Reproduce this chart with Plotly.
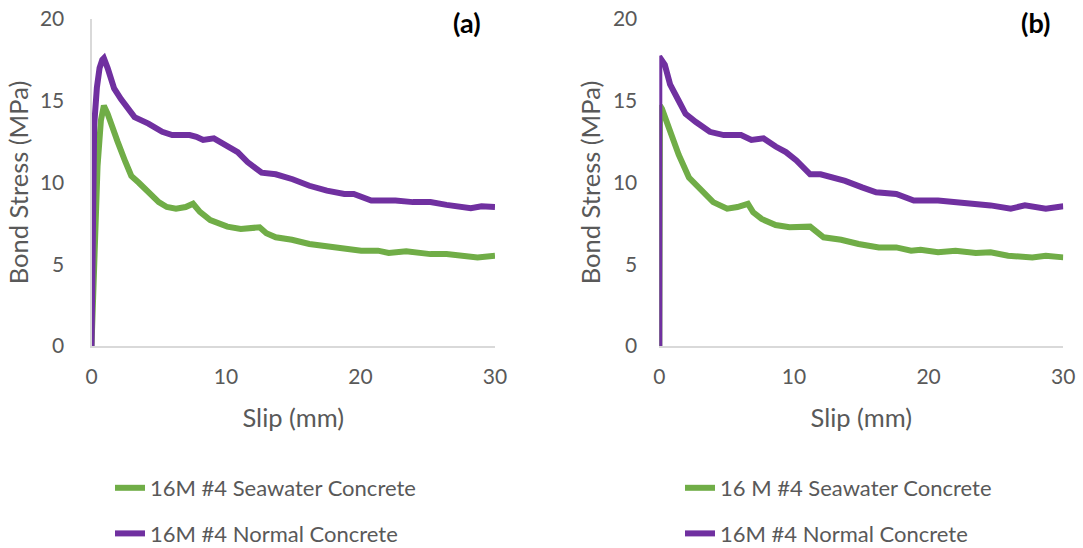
import plotly.graph_objects as go

# ---- data ----
slip_a_sea = [0, 0.1, 0.2, 0.45, 0.7, 0.92, 1.2, 1.5, 1.94, 2.5, 2.96, 3.5, 3.98, 4.5, 5.0, 5.6, 6.28,
              7.0, 7.55, 8.06, 8.83, 10.1, 11.1, 12.5, 13.0, 13.7, 14.9, 16.2, 17.5, 18.8, 20.05,
              21.3, 22.1, 23.4, 25.2, 26.4, 27.7, 28.7, 30]
stress_a_sea = [0, 3.0, 6.0, 11.0, 13.8, 14.7, 14.2, 13.4, 12.5, 11.3, 10.4, 10.0, 9.6, 9.2, 8.8, 8.5, 8.4,
                8.5, 8.7, 8.2, 7.7, 7.3, 7.16, 7.26, 6.9, 6.65, 6.5, 6.24, 6.13, 5.97, 5.83,
                5.83, 5.69, 5.79, 5.62, 5.62, 5.52, 5.42, 5.52]

slip_a_nor = [0, 0.1, 0.2, 0.4, 0.6, 0.8, 0.92, 1.2, 1.68, 2.19, 2.7, 3.2, 4.23, 5.26, 6.0, 7.3, 7.8,
              8.3, 9.1, 9.85, 10.87, 11.6, 12.65, 13.7, 14.95, 16.2, 17.5, 18.8, 19.5, 20.8, 22.6,
              23.9, 25.2, 26.4, 28.2, 29.0, 30]
stress_a_nor = [0, 10.0, 13.5, 15.8, 17.0, 17.5, 17.6, 17.0, 15.75, 15.1, 14.5, 14.0, 13.6, 13.1, 12.9, 12.9, 12.8,
                12.6, 12.7, 12.3, 11.86, 11.25, 10.6, 10.5, 10.2, 9.8, 9.5, 9.3, 9.3, 8.9, 8.9,
                8.8, 8.8, 8.63, 8.43, 8.55, 8.5]

slip_b_sea = [0, 0.05, 0.2, 0.8, 1.44, 2.2, 2.98, 4.0, 5.04, 5.8, 6.58, 6.97, 7.6, 8.64, 9.67, 11.2,
              12.2, 13.5, 14.8, 16.3, 17.6, 18.7, 19.4, 20.7, 22.0, 23.5, 24.6, 25.9, 27.7, 28.7, 30]
stress_b_sea = [0, 14.7, 14.5, 13.1, 11.7, 10.3, 9.7, 8.8, 8.4, 8.5, 8.7, 8.18, 7.77, 7.4, 7.26, 7.3,
                6.65, 6.5, 6.24, 6.03, 6.03, 5.83, 5.89, 5.73, 5.83, 5.69, 5.73, 5.52, 5.42, 5.52, 5.42]

slip_b_nor = [0, 0, 0.41, 0.8, 1.44, 1.95, 2.72, 3.75, 4.78, 6.07, 6.84, 7.74, 8.64, 9.4, 10.18, 11.2,
              11.98, 13.0, 13.8, 15.06, 16.1, 17.6, 18.9, 20.7, 22.0, 23.0, 24.6, 26.1, 27.15, 28.7, 30]
stress_b_nor = [0, 17.7, 17.2, 16.0, 15.0, 14.2, 13.7, 13.1, 12.9, 12.9, 12.6, 12.7, 12.2, 11.86, 11.35, 10.5,
                10.5, 10.3, 10.1, 9.7, 9.4, 9.3, 8.9, 8.9, 8.8, 8.8, 8.6, 8.4, 8.6, 8.4, 8.55]

names_a = ["16M #4 Seawater Concrete", "16M #4 Normal Concrete"]
names_b = ["16 M #4 Seawater Concrete", "16M #4 Normal Concrete"]
x_ticks = [0, 10, 20, 30]
y_ticks = [0, 5, 10, 15, 20]

GREEN = "#70AD47"
PURPLE = "#7030A0"
GREY_TXT = "#595959"
FONT = "Lato, Carlito, Calibri, sans-serif"

W, H = 1083, 548

fig = go.Figure()
fig.add_trace(go.Scatter(x=slip_a_sea, y=stress_a_sea, mode="lines", name=names_a[0],
                         line=dict(color=GREEN, width=6), xaxis="x", yaxis="y",
                         legend="legend", legendgroup="a1"))
fig.add_trace(go.Scatter(x=slip_a_nor, y=stress_a_nor, mode="lines", name=names_a[1],
                         line=dict(color=PURPLE, width=6), xaxis="x", yaxis="y",
                         legend="legend", legendgroup="a2"))
fig.add_trace(go.Scatter(x=slip_b_sea, y=stress_b_sea, mode="lines", name=names_b[0],
                         line=dict(color=GREEN, width=6), xaxis="x2", yaxis="y2",
                         legend="legend2", legendgroup="b1"))
fig.add_trace(go.Scatter(x=slip_b_nor, y=stress_b_nor, mode="lines", name=names_b[1],
                         line=dict(color=PURPLE, width=6), xaxis="x2", yaxis="y2",
                         legend="legend2", legendgroup="b2"))

px = lambda v: v / W
py = lambda v: 1 - v / H

xdom1 = [px(91.5), px(495)]
xdom2 = [px(659.3), px(1063.3)]
ydom = [py(346), py(19)]

common_x = dict(range=[0, 30], tickvals=x_ticks, showgrid=False, zeroline=False,
                showline=True, linecolor="#D9D9D9", linewidth=2, ticks="",
                tickfont=dict(family=FONT, size=21, color=GREY_TXT),
                ticklabelstandoff=11, automargin=False,
                title=dict(text="Slip (mm)", font=dict(family=FONT, size=25.5, color=GREY_TXT), standoff=22),
                fixedrange=True)
common_y = dict(range=[0, 20], tickvals=y_ticks, showgrid=False, zeroline=False, ticks="",
                tickfont=dict(family=FONT, size=21, color=GREY_TXT),
                ticklabelstandoff=21, automargin=False,
                title=dict(text="Bond Stress (MPa)", font=dict(family=FONT, size=25.5, color=GREY_TXT), standoff=4),
                fixedrange=True)

fig.update_layout(
    width=W, height=H,
    margin=dict(l=0, r=0, t=0, b=0, autoexpand=False),
    paper_bgcolor="white", plot_bgcolor="white",
    font=dict(family=FONT, color=GREY_TXT),
    xaxis=dict(domain=xdom1, anchor="y", **common_x),
    yaxis=dict(domain=ydom, anchor="x", showline=True, linecolor="#D9D9D9", linewidth=2, **common_y),
    xaxis2=dict(domain=xdom2, anchor="y2", **common_x),
    yaxis2=dict(domain=ydom, anchor="x2", showline=False, **common_y),
    legend=dict(x=px(110), y=py(467), xanchor="left", yanchor="top", orientation="v",
                font=dict(family=FONT, size=22, color=GREY_TXT), tracegroupgap=14,
                bgcolor="rgba(0,0,0,0)"),
    legend2=dict(x=px(680), y=py(467), xanchor="left", yanchor="top", orientation="v",
                 font=dict(family=FONT, size=22, color=GREY_TXT), tracegroupgap=14,
                 bgcolor="rgba(0,0,0,0)"),
    annotations=[
        dict(text="<b>(a)</b>", x=px(467), y=py(22), xref="paper", yref="paper",
             xanchor="center", yanchor="middle",
             showarrow=False, font=dict(family=FONT, size=27, color="black")),
        dict(text="<b>(b)</b>", x=px(1035), y=py(22), xref="paper", yref="paper",
             xanchor="center", yanchor="middle",
             showarrow=False, font=dict(family=FONT, size=27, color="black")),
    ],
)

fig.write_html("out.html")
